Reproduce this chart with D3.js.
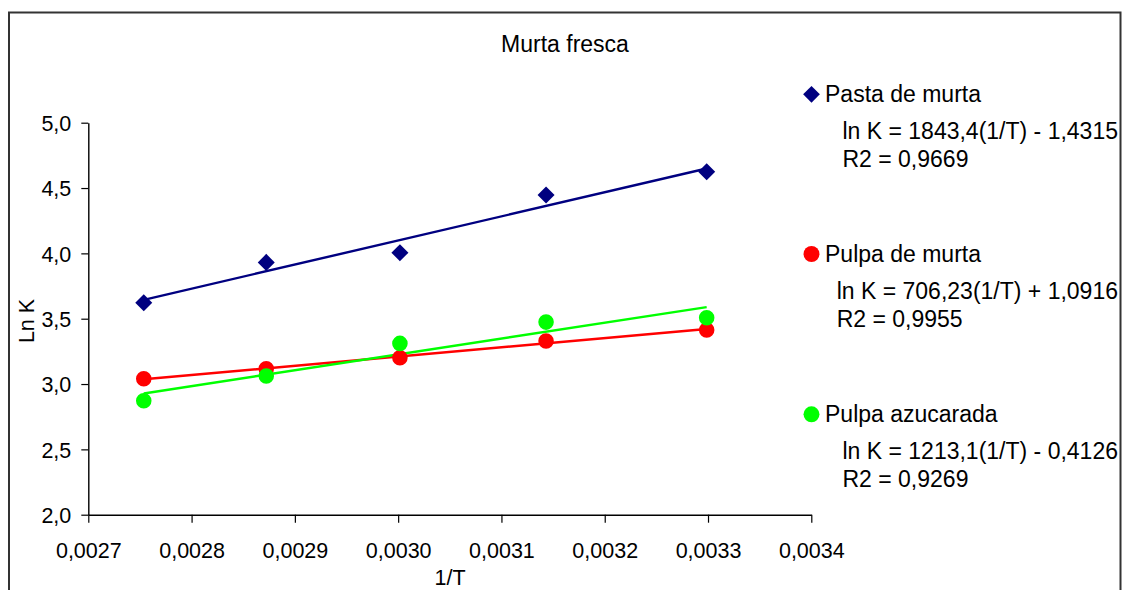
<!DOCTYPE html>
<html>
<head>
<meta charset="utf-8">
<script src="https://cdn.jsdelivr.net/npm/d3@7"></script>
<style>
  body { margin: 0; background: #fff; }
  text { font-family: Arial, "Liberation Sans", sans-serif; fill: #000; }
</style>
</head>
<body>
<div class="chart"></div>
<script>
// data (1/T for 90, 75, 60, 45, 30 °C)
const invT = [0.0027537, 0.0028723, 0.0030017, 0.0031432, 0.0032987];
const seriesNames = ['Pasta de murta', 'Pulpa de murta', 'Pulpa azucarada'];
const pastaLnK = [3.622, 3.931, 4.005, 4.446, 4.624];
const pulpaLnK = [3.041, 3.117, 3.201, 3.329, 3.413];
const azucLnK = [2.872, 3.061, 3.311, 3.474, 3.507];
const slopes = [1843.4, 706.23, 1213.1];
const intercepts = [-1.4315, 1.0916, -0.4126];
const r2 = [0.9669, 0.9955, 0.9269];
const xTicks = [0.0027, 0.0028, 0.0029, 0.0030, 0.0031, 0.0032, 0.0033, 0.0034];
const yTicks = [2.0, 2.5, 3.0, 3.5, 4.0, 4.5, 5.0];

const colours = ['#000080', '#ff0000', '#00ff00'];
const shapes = ['diamond', 'circle', 'circle'];
const allY = [pastaLnK, pulpaLnK, azucLnK];

const comma = s => s.replace('.', ',');

const svg = d3.select('.chart')
  .append('svg')
  .attr('width', 1125)
  .attr('height', 590);

// outer frame (bottom edge runs off the picture)
svg.append('rect')
  .attr('x', 9).attr('y', 12.5)
  .attr('width', 1111.5).attr('height', 620)
  .attr('fill', 'none')
  .attr('stroke', '#333')
  .attr('stroke-width', 2);

const x = d3.scaleLinear()
  .domain([0.0027, 0.0034])
  .range([88.3, 811.3]);

const y = d3.scaleLinear()
  .domain([2, 5])
  .range([514.7, 122.7]);

// axes
const xAxisGroup = svg.append('g')
  .attr('transform', `translate(0, ${y(2)})`)
  .call(d3.axisBottom(x).tickValues(xTicks).tickSize(8).tickSizeOuter(0)
    .tickFormat(d => comma(d3.format('.4f')(d))));

xAxisGroup.selectAll('text')
  .attr('y', 43).attr('dy', null)
  .style('font-size', '21.5px');

const yAxisGroup = svg.append('g')
  .attr('transform', `translate(${x(0.0027)}, 0)`)
  .call(d3.axisLeft(y).tickValues(yTicks).tickSize(7).tickSizeOuter(0).tickPadding(10)
    .tickFormat(d => comma(d3.format('.1f')(d))));

yAxisGroup.selectAll('text')
  .attr('dy', '0.36em')
  .style('font-size', '21.5px');

svg.selectAll('.domain').attr('stroke', '#000').attr('stroke-width', 1.4);
svg.selectAll('.tick line').attr('stroke', '#000').attr('stroke-width', 1.2);
svg.selectAll('.tick text').attr('fill', '#000').style('font-family', 'Arial, "Liberation Sans", sans-serif');

// titles
svg.append('text')
  .attr('x', 565).attr('y', 51.5)
  .attr('text-anchor', 'middle')
  .style('font-size', '23px')
  .text('Murta fresca');

svg.append('text')
  .attr('x', 450).attr('y', 585)
  .attr('text-anchor', 'middle')
  .style('font-size', '21.5px')
  .text('1/T');

svg.append('text')
  .attr('transform', 'translate(34, 321) rotate(-90)')
  .attr('text-anchor', 'middle')
  .style('font-size', '21.5px')
  .text('Ln K');

const symbolFor = (shape, size) => d3.symbol()
  .type(shape === 'diamond' ? d3.symbolSquare : d3.symbolCircle)
  .size(size)();

// trendlines then markers, series by series
allY.forEach((vals, i) => {
  const x0 = d3.min(invT), x1 = d3.max(invT);
  svg.append('line')
    .attr('x1', x(x0)).attr('y1', y(slopes[i] * x0 + intercepts[i]))
    .attr('x2', x(x1)).attr('y2', y(slopes[i] * x1 + intercepts[i]))
    .attr('stroke', colours[i])
    .attr('stroke-width', 2.4);
});

allY.forEach((vals, i) => {
  svg.append('g').selectAll('path')
    .data(vals)
    .enter().append('path')
      .attr('d', symbolFor(shapes[i], shapes[i] === 'diamond' ? 145 : 190))
      .attr('transform', (d, j) =>
        `translate(${x(invT[j])}, ${y(d)})` + (shapes[i] === 'diamond' ? ' rotate(45)' : ''))
      .attr('fill', colours[i]);
});

// legend
const legendTop = [94.3, 254, 414.3];
legendTop.forEach((ty, i) => {
  svg.append('path')
    .attr('d', symbolFor(shapes[i], shapes[i] === 'diamond' ? 140 : 200))
    .attr('transform', `translate(811.5, ${ty})` + (shapes[i] === 'diamond' ? ' rotate(45)' : ''))
    .attr('fill', colours[i]);

  svg.append('text')
    .attr('x', 825).attr('y', ty + 7.6)
    .style('font-size', '23px')
    .text(seriesNames[i]);

  const sign = intercepts[i] < 0 ? ' - ' : ' + ';
  const eq = svg.append('text')
    .attr('x', 1118).attr('y', ty + 44.5)
    .attr('text-anchor', 'end')
    .style('font-size', '23px')
    .text(`ln K = ${comma(String(slopes[i]))}(1/T)${sign}${comma(String(Math.abs(intercepts[i])))}`);

  const eqStart = 1118 - eq.node().getComputedTextLength();
  svg.append('text')
    .attr('x', eqStart).attr('y', ty + 72.5)
    .style('font-size', '23px')
    .text(`R2 = ${comma(String(r2[i]))}`);
});
</script>
</body>
</html>
